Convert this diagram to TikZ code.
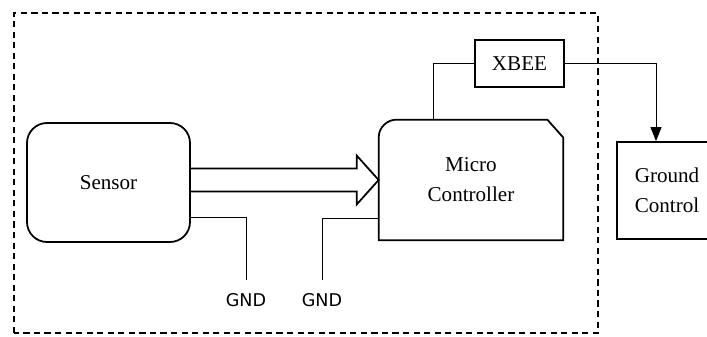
\documentclass[tikz,border=0pt]{standalone}
\usepackage{fontspec}
\setmainfont{Liberation Serif}
\newfontfamily\gndfont{DejaVu Sans}
\usetikzlibrary{calc}
\usetikzlibrary{arrows.meta}

\begin{document}
\begin{tikzpicture}
            \tikzstyle{frame} = [dash pattern=on 3.5pt off 2.5pt, line width=0.6pt]
            \tikzstyle{block} = [align=center, font=\fontsize{12}{17}\selectfont]
            \tikzstyle{wire} = [line width=0.5pt]
            \tikzstyle{gnd} = [font=\gndfont\fontsize{10}{12}\selectfont, outer sep=4pt]

            \useasboundingbox (0, 0) rectangle (14.14, 6.72);
            \clip (0, 0) rectangle (14.14, 6.72);

            \draw[frame] (0.28, 0.06) rectangle (11.96, 6.46);

            \node[block, draw, line width=1pt, rounded corners=0.4cm, minimum width=3.26cm, minimum height=2.38cm] (sensor) at (2.17, 3.07) {Sensor};
            \node[block, minimum width=3.68cm, minimum height=2.4cm] (mc) at (9.42, 3.12) {Micro\\Controller};
            \node[block, draw, line width=0.8pt, minimum width=1.78cm, minimum height=0.94cm] (xbee) at (10.39, 5.45) {XBEE};
            \node[block, draw, line width=1pt, minimum width=2cm, minimum height=1.94cm] (gc) at (13.34, 2.91) {Ground\\Control};
            \node[gnd] (gnd1) at (4.92, 0.72) {GND};
            \node[gnd] (gnd2) at (6.44, 0.72) {GND};

            \draw[line width=1pt] (mc.south west) -- ($(mc.north west)+(0, -0.36)$) arc[start angle=180, end angle=90, radius=0.36] -- ($(mc.north east)+(-0.32, 0)$) -- ($(mc.north east)+(0, -0.36)$) -- (mc.south east) -- cycle;

            \coordinate (tip) at (mc.west);
            \draw[line width=1pt] ($(sensor.east |- tip)+(0, 0.23)$) -- ($(tip)+(-0.44, 0.23)$) -- ($(tip)+(-0.44, 0.49)$) -- (tip) -- ($(tip)+(-0.44, -0.49)$) -- ($(tip)+(-0.44, -0.23)$) -- ($(sensor.east |- tip)+(0, -0.23)$);

            \draw[wire] ($(sensor.south east)+(0, 0.5)$) -| (gnd1.north);
            \draw[wire] ($(mc.south west)+(0, 0.44)$) -| (gnd2.north);

            \draw[wire] ($(mc.north)+(-0.76, 0)$) |- (xbee.west);
            \draw[wire, -{Triangle[length=0.28cm, width=0.22cm]}] (xbee.east) -| ($(gc.north)+(-0.22, 0)$);
        \end{tikzpicture}
\end{document}
